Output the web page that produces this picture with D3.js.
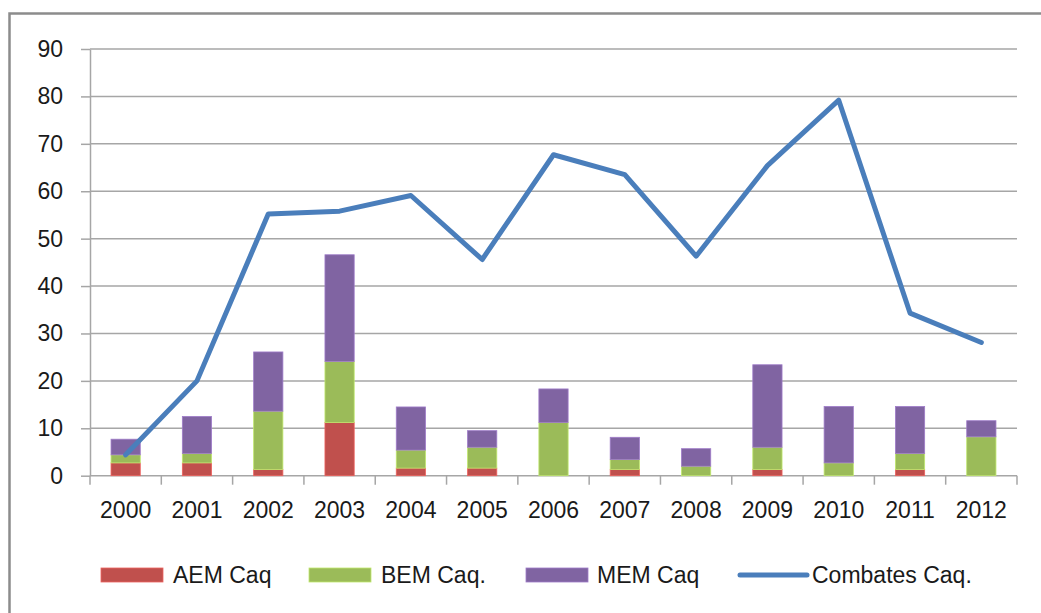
<!DOCTYPE html>
<html>
<head>
<meta charset="utf-8">
<script src="https://cdn.jsdelivr.net/npm/d3@7"></script>
<style>
  html, body { margin: 0; padding: 0; background: #fff; }
  svg { display: block; }
  text { font-family: "Liberation Sans", Arial, sans-serif; fill: #1a1a1a; }
</style>
</head>
<body>
<script>
const years = ["2000","2001","2002","2003","2004","2005","2006","2007","2008","2009","2010","2011","2012"];
const aem = [2.7, 2.7, 1.3, 11.2, 1.6, 1.6, 0, 1.3, 0, 1.3, 0, 1.3, 0];
const bem = [1.7, 2.0, 12.3, 12.9, 3.8, 4.4, 11.2, 2.1, 2.0, 4.7, 2.7, 3.4, 8.2];
const mem = [3.3, 7.8, 12.5, 22.5, 9.1, 3.5, 7.1, 4.7, 3.7, 17.4, 11.9, 9.9, 3.4];
const combates = [4.4, 20.0, 55.2, 55.8, 59.1, 45.6, 67.7, 63.5, 46.3, 65.4, 79.2, 34.3, 28.1];
const yTicks = [0, 10, 20, 30, 40, 50, 60, 70, 80, 90];
const seriesNames = ["AEM Caq", "BEM Caq.", "MEM Caq", "Combates Caq."];
const seriesColors = ["#C0504D", "#9BBB59", "#8064A2", "#4A7EBB"];

const W = 1041, H = 613;
const svg = d3.select("body").append("svg").attr("width", W).attr("height", H);

// outer frame
svg.append("path")
  .attr("d", `M${W+5},13.5 H9.5 V${H+5}`)
  .attr("fill", "none").attr("stroke", "#8c8c8c").attr("stroke-width", 2.5);

const plot = { left: 90, right: 1017, top: 49, bottom: 475.7 };

const x = d3.scaleBand().domain(years).range([plot.left, plot.right]).paddingInner(0.59).paddingOuter(0.295);
const xc = d3.scaleBand().domain(years).range([plot.left, plot.right]);
const y = d3.scaleLinear().domain([0, 90]).range([plot.bottom, plot.top]);

const gridColor = "#a6a6a6";

// gridlines
svg.append("g").selectAll("line").data(yTicks.filter(d => d > 0)).join("line")
  .attr("x1", plot.left).attr("x2", plot.right)
  .attr("y1", d => y(d)).attr("y2", d => y(d))
  .attr("stroke", gridColor).attr("stroke-width", 1.5);

// y axis
const yAxis = d3.axisLeft(y).tickValues(yTicks).tickSize(9).tickPadding(18).tickSizeOuter(0);
const gy = svg.append("g").attr("transform", `translate(${plot.left},0)`).call(yAxis);
gy.select(".domain").attr("stroke", gridColor).attr("stroke-width", 1.5);
gy.selectAll(".tick line").attr("stroke", gridColor).attr("stroke-width", 1.5);
gy.selectAll(".tick text").attr("font-size", 23).attr("font-family", "Liberation Sans, Arial, sans-serif").attr("fill", "#1a1a1a");

// x axis
const xBoundaries = years.map(d => xc(d)).concat([plot.right]);
svg.append("line").attr("x1", plot.left).attr("x2", plot.right)
  .attr("y1", plot.bottom).attr("y2", plot.bottom)
  .attr("stroke", gridColor).attr("stroke-width", 1.5);
svg.append("g").selectAll("line").data(xBoundaries).join("line")
  .attr("x1", d => d).attr("x2", d => d)
  .attr("y1", plot.bottom).attr("y2", plot.bottom + 9)
  .attr("stroke", gridColor).attr("stroke-width", 1.5);
svg.append("g").selectAll("text").data(years).join("text")
  .attr("x", d => xc(d) + xc.bandwidth() / 2)
  .attr("y", 518)
  .attr("text-anchor", "middle")
  .attr("font-size", 23)
  .text(d => d);

// stacked bars
const table = years.map((yr, i) => ({ year: yr, aem: aem[i], bem: bem[i], mem: mem[i] }));
const stack = d3.stack().keys(["aem", "bem", "mem"]);
const layers = stack(table);
svg.append("g").selectAll("g").data(layers).join("g")
  .attr("fill", (d, i) => seriesColors[i])
  .attr("stroke", (d, i) => d3.color(seriesColors[i]).brighter(0.6))
  .attr("stroke-width", 0.8)
  .selectAll("rect").data(d => d.filter(p => p[1] - p[0] > 0)).join("rect")
  .attr("x", d => x(d.data.year))
  .attr("width", x.bandwidth())
  .attr("y", d => y(d[1]))
  .attr("height", d => y(d[0]) - y(d[1]));

// line
const line = d3.line()
  .x((d, i) => xc(years[i]) + xc.bandwidth() / 2)
  .y(d => y(d));
svg.append("path").datum(combates)
  .attr("d", line)
  .attr("fill", "none")
  .attr("stroke", seriesColors[3])
  .attr("stroke-width", 5)
  .attr("stroke-linejoin", "round")
  .attr("stroke-linecap", "round");

// legend
const legendItems = [
  { name: seriesNames[0], color: seriesColors[0], type: "rect", sx: 101, tx: 173 },
  { name: seriesNames[1], color: seriesColors[1], type: "rect", sx: 309, tx: 381 },
  { name: seriesNames[2], color: seriesColors[2], type: "rect", sx: 526, tx: 597 },
  { name: seriesNames[3], color: seriesColors[3], type: "line", sx: 740, tx: 812 }
];
const lg = svg.append("g");
legendItems.forEach(it => {
  if (it.type === "rect") {
    lg.append("rect").attr("x", it.sx).attr("y", 568).attr("width", 62).attr("height", 14)
      .attr("fill", it.color).attr("stroke", d3.color(it.color).brighter(0.6)).attr("stroke-width", 0.8);
  } else {
    lg.append("line").attr("x1", it.sx).attr("x2", it.sx + 67).attr("y1", 575).attr("y2", 575)
      .attr("stroke", it.color).attr("stroke-width", 5).attr("stroke-linecap", "round");
  }
  lg.append("text").attr("x", it.tx).attr("y", 583).attr("font-size", 23).text(it.name);
});
</script>
</body>
</html>
